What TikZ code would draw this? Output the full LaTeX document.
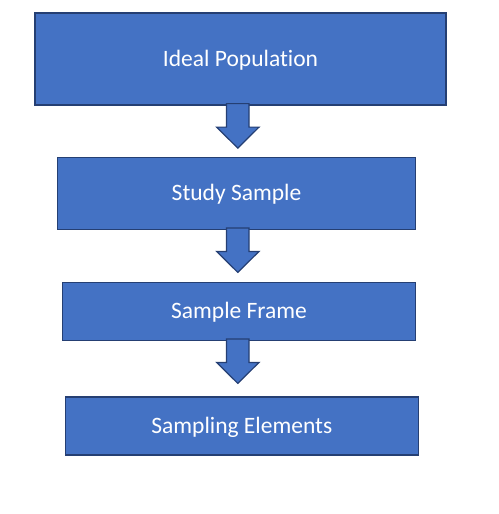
\documentclass[tikz,border=0pt]{standalone}
\usepackage{fontspec}
\setmainfont{Carlito}[Ligatures=NoCommon]
\usetikzlibrary{calc}
\definecolor{boxfill}{HTML}{4472C4}
\definecolor{boxline}{HTML}{253F73}
\tikzset{stage/.style = {rectangle, fill=boxfill, draw=boxline, line width=1.2pt, text=white,
                         font=\fontsize{23.5}{28}\selectfont, inner sep=0pt, text depth=1pt}}
\tikzset{flowarrow/.style = {fill=boxfill, draw=boxline, line width=1.2pt, line join=miter}}
\newcommand{\shaft}{22.5}
\newcommand{\blockdown}[1]{% block arrow hanging under node #1
  \draw [flowarrow] ([yshift=2pt]axis |- #1.south) ++(-\shaft/2,0) -- ++(\shaft,0) -- ++(0,23.5) --
        ++(10,0) -- ++(-\shaft/2-10,21) -- ++(-\shaft/2-10,-21) -- ++(10,0) -- cycle;}

\begin{document}
\begin{tikzpicture}[x=1pt, y=-1pt]
  \useasboundingbox (0,0) rectangle (498,514);

  \coordinate (axis) at (237.8,0);

  \node (ideal)    [stage, minimum width=411pt, minimum height=92pt] at (240.5,59)    {Ideal Population};
  \node (study)    [stage, minimum width=358pt, minimum height=72pt] at (236.5,193.3) {Study Sample};
  \node (frame)    [stage, minimum width=353pt, minimum height=58pt] at (239,311.3)   {Sample Frame};
  \node (elements) [stage, minimum width=353pt, minimum height=58pt] at (241.8,426)   {Sampling Elements};

  % arrows between the stages
  \blockdown{ideal}
  \blockdown{study}
  \blockdown{frame}

\end{tikzpicture}
\end{document}
